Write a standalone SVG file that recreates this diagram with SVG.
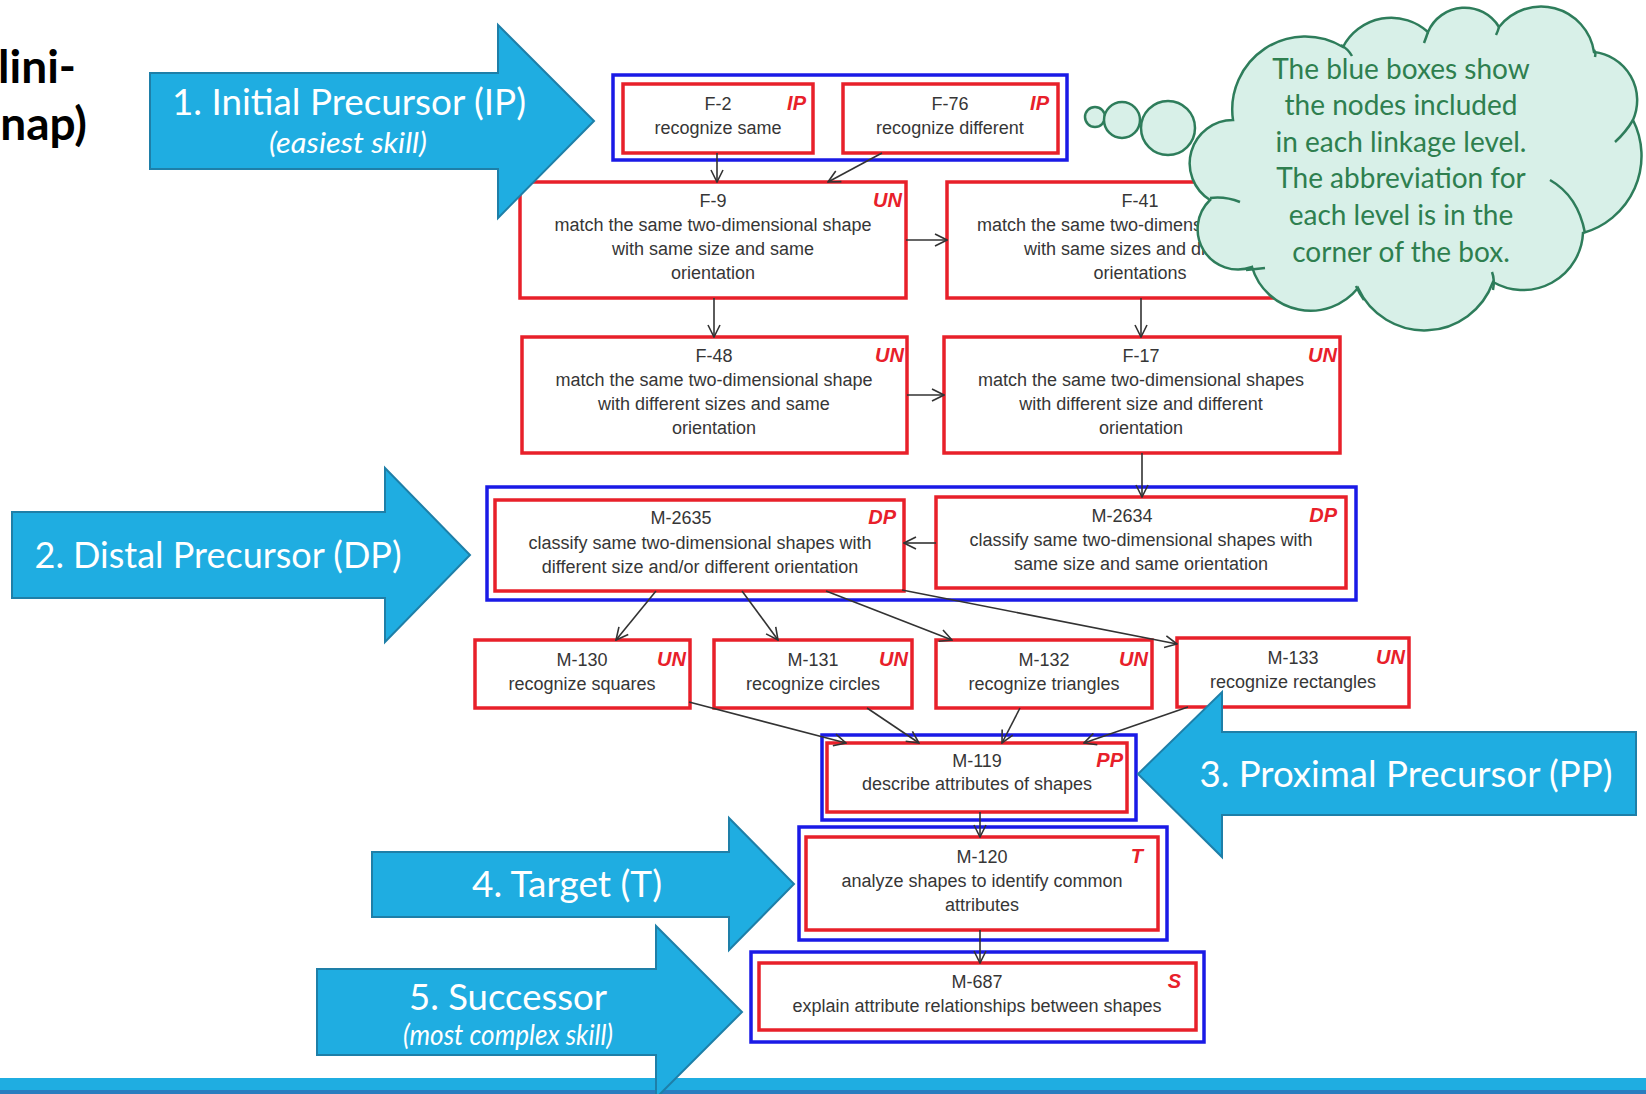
<svg xmlns="http://www.w3.org/2000/svg" width="1646" height="1094" viewBox="0 0 1646 1094">
<defs>
<marker id="ah" viewBox="0 0 14 14" refX="13" refY="7" markerWidth="14" markerHeight="14" markerUnits="userSpaceOnUse" orient="auto"><path d="M1,1 L13,7 L1,13" fill="none" stroke="#333" stroke-width="1.6"/></marker>
</defs>
<style>
.lvl{fill:none;stroke:#1a1ae6;stroke-width:3.5}
.nd{fill:#fff;stroke:#e8202a;stroke-width:3.5}
.t{font-family:"Liberation Sans",Arial,sans-serif;font-size:18px;fill:#363636;text-anchor:middle}
.ts{text-anchor:start}
.ab{font-family:"Liberation Sans",Arial,sans-serif;font-size:20px;font-weight:bold;font-style:italic;fill:#e8202a;text-anchor:end}
.arr{fill:#1fade1;stroke:#1e7fa8;stroke-width:2}
.al{font-family:Lato,"Open Sans",sans-serif;font-size:36px;fill:#fff;text-anchor:middle}
.as{font-style:italic;font-size:28px}
.cl{font-family:Lato,"Open Sans",sans-serif;font-size:28px;fill:#2e7f4f;text-anchor:middle}
.ttl{font-family:Lato,"Open Sans",sans-serif;font-size:46px;font-weight:bold;fill:#000;text-anchor:end}
.cn{fill:none;stroke:#333;stroke-width:1.6;marker-end:url(#ah)}
.cb{fill:#d8f0e8;stroke:#2e7d5b;stroke-width:2.5}
.ci{fill:none;stroke:#2e7d5b;stroke-width:2.5}
</style>
<rect width="1646" height="1094" fill="#fff"/>
<g id="title">
<text class="ttl" x="76" y="83">lini-</text>
<text class="ttl" x="87" y="140">nap)</text>
</g>
<g id="level-boxes">
<rect id="lvl-IP" class="lvl" x="613" y="75" width="454" height="85"/>
<rect id="lvl-DP" class="lvl" x="487" y="487" width="869" height="113"/>
<rect id="lvl-PP" class="lvl" x="822" y="735" width="314" height="85"/>
<rect id="lvl-T" class="lvl" x="799" y="827" width="368" height="113"/>
<rect id="lvl-S" class="lvl" x="751" y="952" width="453" height="90"/>
</g>
<g id="F-2"><rect class="nd" x="623" y="84" width="190" height="69"/><text class="t" x="718" y="110">F-2</text><text class="t" x="718" y="134">recognize same</text><text class="ab" x="806" y="110">IP</text></g>
<g id="F-76"><rect class="nd" x="843" y="84" width="215" height="69"/><text class="t" x="950" y="110">F-76</text><text class="t" x="950" y="134">recognize different</text><text class="ab" x="1049" y="110">IP</text></g>
<g id="F-9"><rect class="nd" x="520" y="182" width="386" height="116"/><text class="t" x="713" y="207">F-9</text><text class="t" x="713" y="231">match the same two-dimensional shape</text><text class="t" x="713" y="255">with same size and same</text><text class="t" x="713" y="279">orientation</text><text class="ab" x="902" y="207">UN</text></g>
<g id="F-41"><rect class="nd" x="947" y="182" width="386" height="116"/><text class="t" x="1140" y="207">F-41</text><text class="t ts" x="977" y="231">match the same two-dimens</text><text class="t ts" x="1024" y="255">with same sizes and di</text><text class="t" x="1140" y="279">orientations</text></g>
<g id="F-48"><rect class="nd" x="522" y="337" width="385" height="116"/><text class="t" x="714" y="362">F-48</text><text class="t" x="714" y="386">match the same two-dimensional shape</text><text class="t" x="714" y="410">with different sizes and same</text><text class="t" x="714" y="434">orientation</text><text class="ab" x="904" y="362">UN</text></g>
<g id="F-17"><rect class="nd" x="944" y="337" width="396" height="116"/><text class="t" x="1141" y="362">F-17</text><text class="t" x="1141" y="386">match the same two-dimensional shapes</text><text class="t" x="1141" y="410">with different size and different</text><text class="t" x="1141" y="434">orientation</text><text class="ab" x="1337" y="362">UN</text></g>
<g id="M-2635"><rect class="nd" x="495" y="500" width="409" height="91"/><text class="t" x="681" y="524">M-2635</text><text class="t" x="700" y="549">classify same two-dimensional shapes with</text><text class="t" x="700" y="573">different size and/or different orientation</text><text class="ab" x="896" y="524">DP</text></g>
<g id="M-2634"><rect class="nd" x="936" y="497" width="410" height="91"/><text class="t" x="1122" y="522">M-2634</text><text class="t" x="1141" y="546">classify same two-dimensional shapes with</text><text class="t" x="1141" y="570">same size and same orientation</text><text class="ab" x="1337" y="522">DP</text></g>
<g id="M-130"><rect class="nd" x="475" y="640" width="215" height="68"/><text class="t" x="582" y="666">M-130</text><text class="t" x="582" y="690">recognize squares</text><text class="ab" x="686" y="666">UN</text></g>
<g id="M-131"><rect class="nd" x="714" y="640" width="198" height="68"/><text class="t" x="813" y="666">M-131</text><text class="t" x="813" y="690">recognize circles</text><text class="ab" x="908" y="666">UN</text></g>
<g id="M-132"><rect class="nd" x="936" y="640" width="216" height="68"/><text class="t" x="1044" y="666">M-132</text><text class="t" x="1044" y="690">recognize triangles</text><text class="ab" x="1148" y="666">UN</text></g>
<g id="M-133"><rect class="nd" x="1177" y="638" width="232" height="69"/><text class="t" x="1293" y="664">M-133</text><text class="t" x="1293" y="688">recognize rectangles</text><text class="ab" x="1405" y="664">UN</text></g>
<g id="M-119"><rect class="nd" x="827" y="743" width="300" height="69"/><text class="t" x="977" y="767">M-119</text><text class="t" x="977" y="790">describe attributes of shapes</text><text class="ab" x="1123" y="767">PP</text></g>
<g id="M-120"><rect class="nd" x="806" y="837" width="352" height="93"/><text class="t" x="982" y="863">M-120</text><text class="t" x="982" y="887">analyze shapes to identify common</text><text class="t" x="982" y="911">attributes</text><text class="ab" x="1143" y="863">T</text></g>
<g id="M-687"><rect class="nd" x="759" y="963" width="437" height="67"/><text class="t" x="977" y="988">M-687</text><text class="t" x="977" y="1012">explain attribute relationships between shapes</text><text class="ab" x="1181" y="988">S</text></g>
<g id="connectors">
<path class="cn" d="M717,153 L717,182"/>
<path class="cn" d="M882,153 L828,182"/>
<path class="cn" d="M906,240 L947,240"/>
<path class="cn" d="M714,298 L714,337"/>
<path class="cn" d="M1141,298 L1141,337"/>
<path class="cn" d="M907,395 L944,395"/>
<path class="cn" d="M1142,453 L1142,497"/>
<path class="cn" d="M936,543 L904,543"/>
<path class="cn" d="M656,591 L616,640"/>
<path class="cn" d="M742,591 L778,640"/>
<path class="cn" d="M826,591 L952,640"/>
<path class="cn" d="M902,590 L1177,644"/>
<path class="cn" d="M689,702 L846,743"/>
<path class="cn" d="M867,708 L919,743"/>
<path class="cn" d="M1020,708 L1002,743"/>
<path class="cn" d="M1188,707 L1084,743"/>
<path class="cn" d="M980,812 L980,837"/>
<path class="cn" d="M980,930 L980,963"/>
</g>
<g id="callout">
<circle class="cb" cx="1095" cy="117" r="10"/>
<circle class="cb" cx="1122" cy="120" r="18"/>
<circle class="cb" cx="1168" cy="128" r="27"/>
<path class="cb" d="M1233,120 A73,73 0 0 1 1343,47 A54.5,54.5 0 0 1 1428,32 A40,40 0 0 1 1499,27 A53.5,53.5 0 0 1 1594,52 A48.6,48.6 0 0 1 1633,120 A80,80 0 0 1 1583,233 A60,60 0 0 1 1493,282 A73,73 0 0 1 1358,288 A61,61 0 0 1 1252,267 A40.4,40.4 0 0 1 1210,200 A43.3,43.3 0 0 1 1233,120 Z"/>
<path class="ci" d="M1210,198 Q1225,196 1240,202"/>
<path class="ci" d="M1550,180 Q1578,196 1585,233"/>
<path class="ci" d="M1615,142 Q1626,132 1633,120"/>
<path class="ci" d="M1341,45 Q1348,49 1352,56"/>
<path class="ci" d="M1428,32 Q1426,38 1424,43"/>
<path class="ci" d="M1499,27 Q1498,31 1496,35"/>
<path class="ci" d="M1594,50 Q1596,53 1595,57"/>
<path class="ci" d="M1493,290 Q1495,280 1492,272"/>
<path class="ci" d="M1356,286 Q1359,293 1364,300"/>
<path class="ci" d="M1246,270 Q1256,269 1265,268"/>
<text class="cl" x="1401" y="79">The blue boxes show</text>
<text class="cl" x="1401" y="115">the nodes included</text>
<text class="cl" x="1401" y="152">in each linkage level.</text>
<text class="cl" x="1401" y="188">The abbreviation for</text>
<text class="cl" x="1401" y="225">each level is in the</text>
<text class="cl" x="1401" y="262">corner of the box.</text>
</g>
<g id="bar"><rect x="0" y="1078" width="1646" height="12" fill="#1fade1"/><rect x="0" y="1090" width="1646" height="4" fill="#2a7dbf"/></g>
<g id="arrow-IP"><path class="arr" d="M150,73 L498,73 L498,25 L594,121 L498,218 L498,169 L150,169 Z"/><text class="al" x="349" y="115" textLength="354" lengthAdjust="spacingAndGlyphs">1. Initial Precursor (IP)</text><text class="al as" x="348" y="153" textLength="158" lengthAdjust="spacingAndGlyphs">(easiest skill)</text></g>
<g id="arrow-DP"><path class="arr" d="M12,512 L385,512 L385,468 L470,555 L385,642 L385,598 L12,598 Z"/><text class="al" x="218" y="568" textLength="367" lengthAdjust="spacingAndGlyphs">2. Distal Precursor (DP)</text></g>
<g id="arrow-PP"><path class="arr" d="M1636,732 L1222,732 L1222,692 L1138,774 L1222,857 L1222,815 L1636,815 Z"/><text class="al" x="1406" y="787" textLength="413" lengthAdjust="spacingAndGlyphs">3. Proximal Precursor (PP)</text></g>
<g id="arrow-T"><path class="arr" d="M372,852 L729,852 L729,818 L794,884 L729,950 L729,917 L372,917 Z"/><text class="al" x="567" y="897" textLength="190" lengthAdjust="spacingAndGlyphs">4. Target (T)</text></g>
<g id="arrow-S"><path class="arr" d="M317,969 L656,969 L656,926 L742,1012 L656,1098 L656,1055 L317,1055 Z"/><text class="al" x="508" y="1010" textLength="198" lengthAdjust="spacingAndGlyphs">5. Successor</text><text class="al as" x="508" y="1045" textLength="210" lengthAdjust="spacingAndGlyphs">(most complex skill)</text></g>
</svg>
